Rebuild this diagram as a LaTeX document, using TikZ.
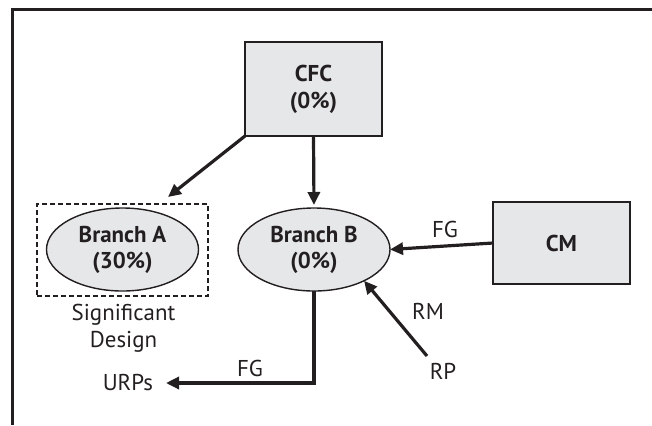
\documentclass[tikz,border=0pt]{standalone}
\usepackage{fontspec}
\setmainfont{PT Sans}
\usetikzlibrary{shapes.geometric,arrows.meta}
\definecolor{boxgray}{HTML}{E6E7E9}
\definecolor{ink}{HTML}{231F20}
\tikzset{
  x=1bp, y=-1bp,
  every node/.style={font=\fontsize{23}{27}\selectfont, text=ink, inner sep=0pt, outer sep=0pt},
  bigbox/.style={draw=ink, fill=boxgray, rectangle, align=center, font=\fontsize{23}{27}\selectfont\bfseries},
  branch/.style={draw=ink, fill=boxgray, ellipse, line width=1.4bp, align=center,
                 minimum width=152bp, minimum height=83bp, font=\fontsize{23}{26}\selectfont\bfseries},
  arr/.style={draw=ink, line width=3.2bp, -{Triangle[length=13bp,width=12bp]}},
  lbl/.style={font=\fontsize{23}{27}\selectfont},
}
\begin{document}
\begin{tikzpicture}
\useasboundingbox (0,0) rectangle (652,425);
% open frame: top and left edges only
\draw[ink, line width=3bp] (12.5,425) -- (12.5,9.5) -- (652,9.5);

% boxes and branches
\node[bigbox, line width=1.6bp, minimum width=137bp, minimum height=94bp] (cfc) at (313.5,89) {CFC\\(0\%)};
\node[bigbox, line width=2.6bp, minimum width=137bp, minimum height=82bp] (cm) at (561.5,243) {CM};
\node[branch] (brA) at (122.5,249.5) {Branch A\\(30\%)};
\node[branch] (brB) at (314,249.5) {Branch B\\(0\%)};
\node[draw=ink, dashed, dash pattern=on 5bp off 3bp, line width=2bp, rectangle,
      minimum width=171bp, minimum height=92bp] (sig) at (122.5,250) {};

% free ends of connectors
\coordinate (tipA) at (168,197);
\coordinate (rpS) at (427,356);
\coordinate (urpT) at (166,383);

% connectors
\draw[arr] (cfc.south west) -- (tipA);
\draw[arr, shorten >=3bp] (cfc.south) -- (brB.north);
\draw[arr] (cm.west) -- (brB.east);
\draw[arr] (rpS) -- (brB.-32.5);
\draw[arr] (brB.south) |- (urpT);

% labels
\node[lbl] (fg1) at (445,229) {FG};
\node[lbl] (fg2) at (250,368) {FG};
\node[lbl] (rm) at (428,311) {RM};
\node[lbl] (rp) at (443,371) {RP};
\node[lbl, anchor=east] (urp) at (153,383) {URPs};
\node[lbl, align=center] (sd) at (123.5,328) {Significant\\Design};
\end{tikzpicture}
\end{document}
